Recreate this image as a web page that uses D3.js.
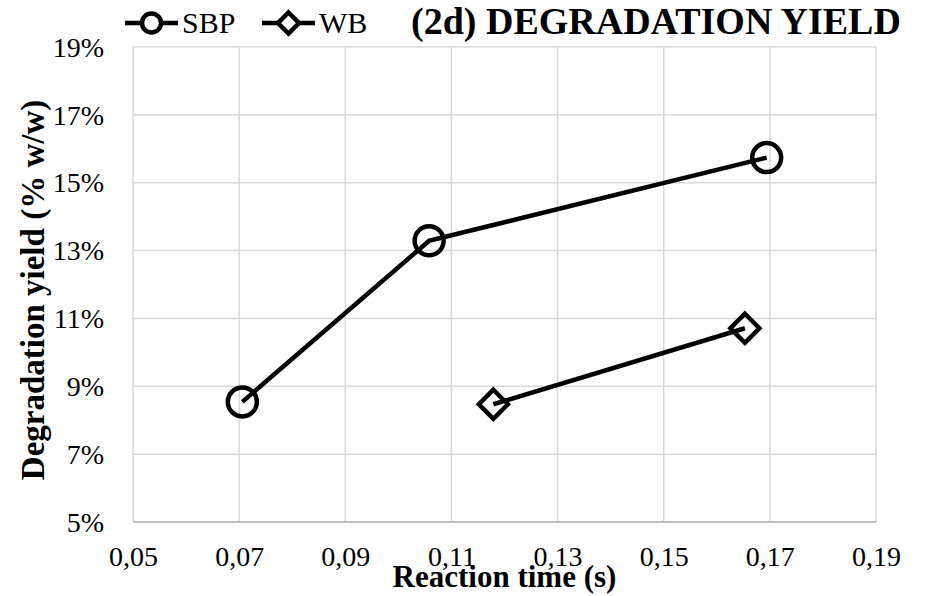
<!DOCTYPE html>
<html>
<head>
<meta charset="utf-8">
<script src="https://cdn.jsdelivr.net/npm/d3@7/dist/d3.min.js"></script>
<style>
  html, body { margin: 0; padding: 0; background: #fff; }
  svg { display: block; font-family: "Liberation Serif", "Times New Roman", serif; }
</style>
</head>
<body>
<svg id="chart" width="930" height="596"></svg>
<script>
// ---- Data ----
const seriesNames = ["SBP", "WB"];
const sbpX = [0.0706, 0.1058, 0.1694];
const sbpY = [8.54, 13.29, 15.74];
const wbX = [0.1179, 0.1653];
const wbY = [8.47, 10.71];
const xTicks = [0.05, 0.07, 0.09, 0.11, 0.13, 0.15, 0.17, 0.19];
const yTicks = [5, 7, 9, 11, 13, 15, 17, 19];
const titleText = "(2d) DEGRADATION YIELD";
const xTitle = "Reaction time (s)";
const yTitle = "Degradation yield (% w/w)";

// ---- Layout ----
const svg = d3.select("#chart");
const L = 133, R = 876, T = 47, B = 522;
const x = d3.scaleLinear().domain([0.05, 0.19]).range([L, R]);
const y = d3.scaleLinear().domain([5, 19]).range([B, T]);
const fmtX = v => d3.format(".2f")(v).replace(".", ",");
const fmtY = v => v + "%";
const serif = "Liberation Serif, Times New Roman, serif";

// gridlines
const g = svg.append("g");
g.selectAll(".vg").data(xTicks).enter().append("line")
  .attr("x1", d => x(d)).attr("x2", d => x(d))
  .attr("y1", T).attr("y2", B)
  .attr("stroke", "#d9d9d9").attr("stroke-width", 1.5);
g.selectAll(".hg").data(yTicks).enter().append("line")
  .attr("x1", L).attr("x2", R)
  .attr("y1", d => y(d)).attr("y2", d => y(d))
  .attr("stroke", "#d9d9d9").attr("stroke-width", 1.5);
// bottom axis line
g.append("line").attr("x1", L).attr("x2", R).attr("y1", B).attr("y2", B)
  .attr("stroke", "#bfbfbf").attr("stroke-width", 2);

// axes using d3 axis generators (labels only)
const xAxis = d3.axisBottom(x).tickValues(xTicks).tickFormat(fmtX).tickSize(0).tickPadding(0);
const xa = svg.append("g").attr("transform", `translate(0,${B})`).call(xAxis);
xa.attr("font-family", serif);
xa.select(".domain").remove();
xa.selectAll("text").attr("dy", null).attr("y", 44)
  .attr("font-size", 28).attr("font-family", serif).attr("fill", "#000");

const yAxis = d3.axisLeft(y).tickValues(yTicks).tickFormat(fmtY).tickSize(0).tickPadding(0);
const ya = svg.append("g").attr("transform", `translate(104,0)`).call(yAxis);
ya.attr("font-family", serif);
ya.select(".domain").remove();
ya.selectAll("text").attr("dy", "0.33em").attr("x", 0)
  .attr("font-size", 28).attr("font-family", serif).attr("fill", "#000");

// lines
const line = d3.line().x(d => x(d[0])).y(d => y(d[1]));
const sbp = sbpX.map((v, i) => [v, sbpY[i]]);
const wb = wbX.map((v, i) => [v, wbY[i]]);
svg.append("path").datum(sbp).attr("d", line).attr("fill", "none")
  .attr("stroke", "#000").attr("stroke-width", 4.5).attr("stroke-linejoin", "round");
svg.append("path").datum(wb).attr("d", line).attr("fill", "none")
  .attr("stroke", "#000").attr("stroke-width", 4.5).attr("stroke-linejoin", "round");

// markers
svg.selectAll(".sbpm").data(sbp).enter().append("circle")
  .attr("cx", d => x(d[0])).attr("cy", d => y(d[1])).attr("r", 14.5)
  .attr("fill", "none").attr("stroke", "#000").attr("stroke-width", 4.5);
const diamond = (cx, cy, s) => `M${cx},${cy - s}L${cx + s},${cy}L${cx},${cy + s}L${cx - s},${cy}Z`;
svg.selectAll(".wbm").data(wb).enter().append("path")
  .attr("d", d => diamond(x(d[0]), y(d[1]), 14.5))
  .attr("fill", "none").attr("stroke", "#000").attr("stroke-width", 4.5).attr("stroke-linejoin", "miter");

// legend
const legY = 23;
const leg = [
  { name: seriesNames[0], x0: 125, type: "circle" },
  { name: seriesNames[1], x0: 262, type: "diamond" }
];
leg.forEach(it => {
  svg.append("line").attr("x1", it.x0).attr("x2", it.x0 + 53).attr("y1", legY).attr("y2", legY)
    .attr("stroke", "#000").attr("stroke-width", 4.5);
  const cx = it.x0 + 26.5;
  if (it.type === "circle") {
    svg.append("circle").attr("cx", cx).attr("cy", legY).attr("r", 9.5)
      .attr("fill", "#fff").attr("stroke", "#000").attr("stroke-width", 4.5);
  } else {
    svg.append("path").attr("d", diamond(cx, legY, 10.5))
      .attr("fill", "#fff").attr("stroke", "#000").attr("stroke-width", 4.5);
  }
  svg.append("text").attr("x", it.x0 + 57).attr("y", legY + 10)
    .attr("font-size", 30).text(it.name);
});

// title
svg.append("text").attr("x", 411).attr("y", 34)
  .attr("font-size", 38).attr("font-weight", "bold").text(titleText);

// axis titles
svg.append("text").attr("x", (L + R) / 2).attr("y", 587)
  .attr("text-anchor", "middle").attr("font-size", 31).attr("font-weight", "bold").text(xTitle);
svg.append("text").attr("transform", `translate(44,290) rotate(-90)`)
  .attr("text-anchor", "middle").attr("font-size", 33).attr("font-weight", "bold").text(yTitle);
</script>
</body>
</html>
